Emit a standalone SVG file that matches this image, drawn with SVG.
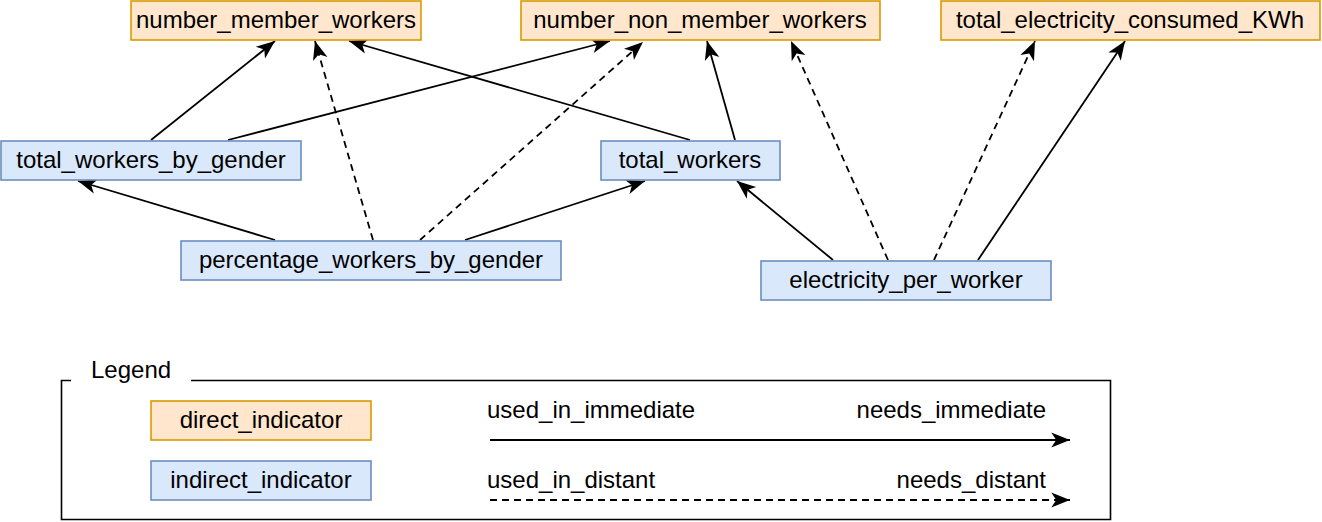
<svg xmlns="http://www.w3.org/2000/svg" width="1322" height="522" viewBox="0 0 1322 522">
<style>
text{font-family:"Liberation Sans",Arial,Helvetica,sans-serif;font-size:24px;fill:#000}
.d rect{fill:#ffe6cc;stroke:#d79b00;stroke-width:1.6}
.i rect{fill:#dae8fc;stroke:#6c8ebf;stroke-width:1.6}
.n text{text-anchor:middle}
.e{stroke:#000;stroke-width:1.8;fill:none;marker-end:url(#a)}
.ds{stroke-dasharray:7 5}
</style>
<defs>
<marker id="a" markerUnits="userSpaceOnUse" markerWidth="20" markerHeight="16" viewBox="0 0 16 12" refX="15" refY="6" orient="auto" overflow="visible">
<path d="M0,0 L15,6 L0,12 L4,6 Z" fill="#000"/>
</marker>
</defs>
<rect width="1322" height="522" fill="#fff"/>
<g id="connectors">
<line class="e" x1="151" y1="140" x2="275" y2="41"/>
<line class="e" x1="228" y1="140" x2="610" y2="41"/>
<line class="e ds" x1="373" y1="240" x2="315" y2="41"/>
<line class="e" x1="690" y1="140" x2="349" y2="41"/>
<line class="e ds" x1="420" y1="240" x2="643" y2="42"/>
<line class="e" x1="735" y1="140" x2="707" y2="41"/>
<line class="e ds" x1="888" y1="260" x2="791" y2="41"/>
<line class="e ds" x1="934" y1="260" x2="1035" y2="41"/>
<line class="e" x1="978" y1="260" x2="1125" y2="41"/>
<line class="e" x1="275" y1="240" x2="78" y2="181"/>
<line class="e" x1="465" y1="240" x2="645" y2="181"/>
<line class="e" x1="833" y1="260" x2="737" y2="181"/>
</g>
<g id="number_member_workers" class="n d"><rect x="131" y="1" width="290" height="39"/><text x="276" y="28">number_member_workers</text></g>
<g id="number_non_member_workers" class="n d"><rect x="521" y="1" width="359" height="39"/><text x="700" y="28">number_non_member_workers</text></g>
<g id="total_electricity_consumed_KWh" class="n d"><rect x="941" y="1" width="379" height="39"/><text x="1130" y="28">total_electricity_consumed_KWh</text></g>
<g id="total_workers_by_gender" class="n i"><rect x="1" y="141" width="300" height="39"/><text x="151" y="168">total_workers_by_gender</text></g>
<g id="total_workers" class="n i"><rect x="601" y="141" width="179" height="39"/><text x="690" y="168">total_workers</text></g>
<g id="percentage_workers_by_gender" class="n i"><rect x="181" y="241" width="380" height="39"/><text x="371" y="268">percentage_workers_by_gender</text></g>
<g id="electricity_per_worker" class="n i"><rect x="761" y="261" width="290" height="39"/><text x="906" y="288">electricity_per_worker</text></g>
<g id="legend">
<path d="M71,380.5 H61.5 V519.5 H1110.5 V380.5 H191" fill="none" stroke="#000" stroke-width="1.6"/>
<text x="91" y="378">Legend</text>
<g id="legend_direct" class="n d"><rect x="151" y="401" width="220" height="39"/><text x="261" y="428">direct_indicator</text></g>
<g id="legend_indirect" class="n i"><rect x="151" y="461" width="220" height="39"/><text x="261" y="488">indirect_indicator</text></g>
<text x="487" y="418">used_in_immediate</text>
<text x="1046" y="418" text-anchor="end">needs_immediate</text>
<text x="487" y="488">used_in_distant</text>
<text x="1046" y="488" text-anchor="end">needs_distant</text>
<line class="e" x1="490" y1="440" x2="1070" y2="440"/>
<line class="e ds" x1="490" y1="500" x2="1070" y2="500"/>
</g>
</svg>
